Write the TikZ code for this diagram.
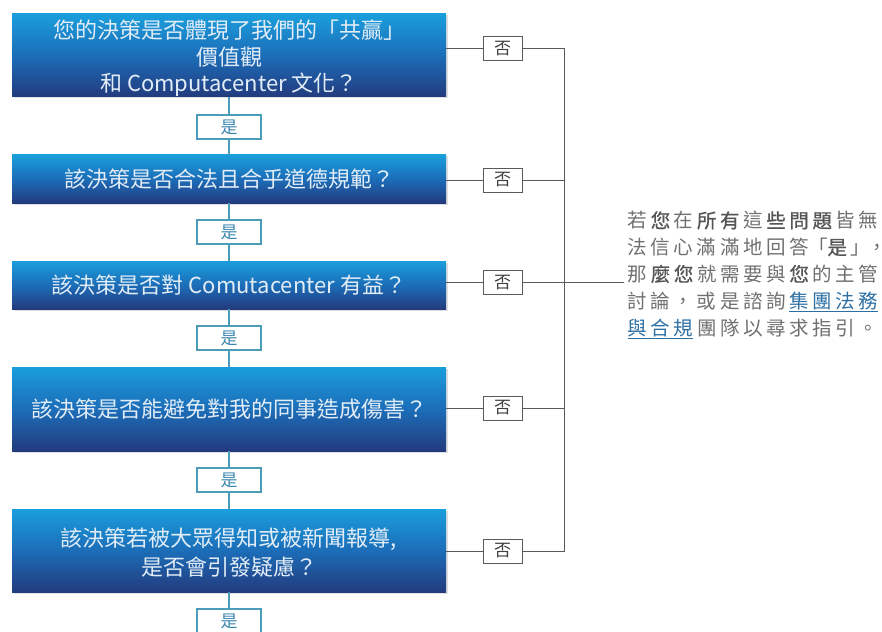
\documentclass[tikz,border=0pt]{standalone}
\usepackage{fontspec}
\newfontfamily\cjk{Noto Sans CJK TC}
\newfontfamily\cjkb[FakeBold=0.9]{Noto Sans CJK TC}
\usetikzlibrary{shadows}
\definecolor{boxtop}{HTML}{1A9EDC}
\definecolor{boxmid}{HTML}{1C6DB8}
\definecolor{boxbot}{HTML}{233B7E}
\definecolor{boxtext}{HTML}{E2EDF7}
\definecolor{yescol}{HTML}{4A9CB8}
\definecolor{yestext}{HTML}{3A86AE}
\definecolor{nocol}{HTML}{5A5A5A}
\definecolor{notext}{HTML}{404040}
\definecolor{sidetext}{HTML}{707070}
\definecolor{sidedark}{HTML}{555555}
\definecolor{linkcol}{HTML}{2D6FA3}
\newlength{\pitch}\setlength{\pitch}{23.1pt}
\def\spaced#1{\spacedi#1\relax}
\def\spacedi#1{\ifx#1\relax\else\hbox to \pitch{#1\hss}\expandafter\spacedi\fi}
\newcommand{\hl}[1]{{\cjkb\color{sidedark}\spaced{#1}}}
\newcommand{\lnk}[2]{{\color{linkcol}\underline{\spaced{#1}\hbox to 19.5pt{#2\hss}}}\hskip 3.6pt}
\newcommand{\eol}{\kern-3.6pt}
\tikzset{
  qbox/.style={draw=none, top color=boxtop, bottom color=boxbot, middle color=boxmid,
    minimum width=434pt, inner sep=0pt, text=boxtext, align=center,
    font=\cjk\fontsize{22}{26.5}\selectfont,
    drop shadow={opacity=0.25, shadow xshift=1.5pt, shadow yshift=-1.5pt}},
  qlabel/.style={inner sep=0pt, text=boxtext, align=center},
  yesbox/.style={draw=yescol, line width=1.1pt, fill=white, minimum width=64pt, minimum height=24pt,
    inner sep=0pt, text=yestext, font=\cjk\fontsize{17}{17}\selectfont},
  nobox/.style={draw=nocol, line width=1pt, fill=white, minimum width=39pt, minimum height=24pt,
    inner sep=0pt, text=notext, font=\cjk\fontsize{17}{17}\selectfont},
  yesline/.style={draw=yescol, line width=1.1pt},
  noline/.style={draw=nocol, line width=1pt},
}
\begin{document}
\begin{tikzpicture}[x=1pt,y=-1pt]
\useasboundingbox (0,0) rectangle (882,631);
% question boxes
\node[qbox, minimum height=83pt,
  label={[qlabel, font=\cjk\fontsize{22}{26.5}\selectfont, yshift=-3pt]center:{您的決策是否體現了我們的「共贏」\\價值觀\\和 Computacenter 文化？}}]
  (q1) at (229,55.5) {};
\node[qbox, minimum height=48pt] (q2) at (229,179) {該決策是否合法且合乎道德規範？};
\node[qbox, minimum height=48pt] (q3) at (229,285) {該決策是否對 Comutacenter 有益？};
\node[qbox, minimum height=84pt] (q4) at (229,409) {該決策是否能避免對我的同事造成傷害？};
\node[qbox, minimum height=83pt,
  label={[qlabel, font=\cjk\fontsize{22}{29.5}\selectfont, yshift=-2pt]center:{該決策若被大眾得知或被新聞報導,\\是否會引發疑慮？}}]
  (q5) at (229,550.5) {};
% yes boxes
\node[yesbox] (y1) at (229,127) {是};
\node[yesbox] (y2) at (229,232) {是};
\node[yesbox] (y3) at (229,338) {是};
\node[yesbox] (y4) at (229,480) {是};
\node[yesbox] (y5) at (229,621) {是};
\draw[yesline] (q1) -- (y1) -- (q2) -- (y2) -- (q3) -- (y3) -- (q4) -- (y4) -- (q5) -- (y5);
% no boxes
\node[nobox] (n1) at (502.5,49) {否};
\node[nobox] (n2) at (502.5,180) {否};
\node[nobox] (n3) at (502.5,282.5) {否};
\node[nobox] (n4) at (502.5,408) {否};
\node[nobox] (n5) at (502.5,551) {否};
\coordinate (rail) at (564,0);
\draw[noline] (n1 -| q1.east) -- (n1);
\draw[noline] (n2 -| q2.east) -- (n2);
\draw[noline] (n3 -| q3.east) -- (n3);
\draw[noline] (n4 -| q4.east) -- (n4);
\draw[noline] (n5 -| q5.east) -- (n5);
\draw[noline] (n1) -- (n1 -| rail) -- (n5 -| rail) -- (n5);
\draw[noline] (n2) -- (n2 -| rail);
\draw[noline] (n3) -- (n3 -| rail);
\draw[noline] (n4) -- (n4 -| rail);
% side text
\node[anchor=north west, inner sep=0pt, align=left, text=sidetext,
  font=\cjk\fontsize{19.5}{26.8}\selectfont] (side) at (627.5,211)
  {\spaced{若}\hl{您}\spaced{在}\hl{所有}\spaced{這}\hl{些問題}\spaced{皆無}\eol\\
   \spaced{法信心滿滿地回答}\hbox to 15pt{\hss\hbox to 19.5pt{「\hss}}\hbox to 23pt{\hl{是}\hss}\hbox to 16.5pt{」\hss}\hbox to 9pt{，\hss}\\
   \spaced{那}\hl{麼您}\spaced{就需要與}\hl{您}\spaced{的主管}\eol\\
   \spaced{討論，或是諮詢}\lnk{集團法}{務}\eol\\
   \lnk{與合}{規}\spaced{團隊以尋求指引。}\eol};
\coordinate (tj) at (564,282);
\coordinate (tend) at (624,282);
\draw[noline] (tj) -- (tend);
\end{tikzpicture}
\end{document}
